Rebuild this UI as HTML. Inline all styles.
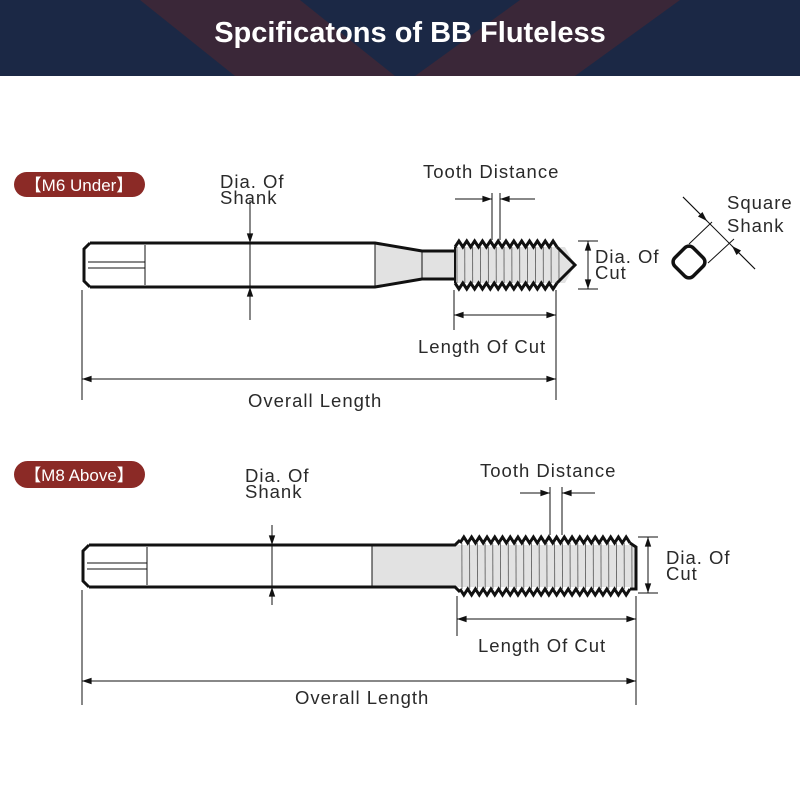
<!DOCTYPE html>
<html><head><meta charset="utf-8"><style>
html,body{margin:0;padding:0;background:#fff;}
svg{display:block;}
text{font-family:"Liberation Sans","DejaVu Sans",sans-serif;fill:#2a2a2a;}
</style></head><body>
<svg id="s" width="800" height="800" viewBox="0 0 800 800" xmlns="http://www.w3.org/2000/svg">
<defs>
<marker id="a" viewBox="0 0 12 10" refX="12" refY="5" markerWidth="12" markerHeight="8" markerUnits="userSpaceOnUse" orient="auto-start-reverse"><path d="M0,1 L12,5 L0,9 z" fill="#111"/></marker>
</defs>
<rect x="0" y="0" width="800" height="76" fill="#1b2845"/>
<polygon points="140,0 300,0 395,76 235,76" fill="#3a2738"/>
<polygon points="520,0 680,0 575,76 415,76" fill="#3a2738"/>
<text x="410" y="42" font-size="29" font-weight="bold" text-anchor="middle" style="fill:#fff">Spcificatons of BB Fluteless</text>

<rect x="14" y="172" width="131" height="25" rx="12.5" fill="#8b2a26"/>
<text x="79" y="191" font-size="17" text-anchor="middle" style="fill:#fff">【M6 Under】</text>
<rect x="14" y="461" width="131" height="27" rx="13.5" fill="#8b2a26"/>
<text x="79" y="481" font-size="17" text-anchor="middle" style="fill:#fff">【M8 Above】</text>

<g font-size="18.5" letter-spacing="1">
<text x="220" y="188">Dia. Of</text><text x="220" y="204">Shank</text>
<text x="423" y="178">Tooth Distance</text>
<text x="727" y="209">Square</text><text x="727" y="232">Shank</text>
<text x="595" y="263">Dia. Of</text><text x="595" y="279">Cut</text>
<text x="418" y="353">Length Of Cut</text>
<text x="248" y="407">Overall Length</text>
<text x="245" y="482">Dia. Of</text><text x="245" y="498">Shank</text>
<text x="480" y="477">Tooth Distance</text>
<text x="666" y="564">Dia. Of</text><text x="666" y="580">Cut</text>
<text x="478" y="652">Length Of Cut</text>
<text x="295" y="704">Overall Length</text>
</g>

<g id="draw" stroke="#111" fill="none"></g>

<g stroke="#111" fill="none">
<rect x="676" y="249" width="26" height="26" rx="6" transform="rotate(45 689 262)" stroke-width="3.5"/>
<line x1="683" y1="197" x2="755" y2="269" stroke-width="1"/>
<line x1="683" y1="197" x2="707" y2="221" stroke-width="1" marker-end="url(#a)"/>
<line x1="755" y1="269" x2="732" y2="246" stroke-width="1" marker-end="url(#a)"/>
<line x1="689" y1="244" x2="712" y2="222" stroke-width="1"/>
<line x1="708" y1="263" x2="734" y2="239" stroke-width="1"/>
</g>
</svg>
<script>
var g=document.getElementById('draw');
function el(t,a){var e=document.createElementNS('http://www.w3.org/2000/svg',t);for(var k in a)e.setAttribute(k,a[k]);g.appendChild(e);return e;}
function L(x1,y1,x2,y2,w,m1,m2){var e=el('line',{x1:x1,y1:y1,x2:x2,y2:y2,'stroke-width':w||1});if(m1)e.setAttribute('marker-start','url(#a)');if(m2)e.setAttribute('marker-end','url(#a)');}
function thread(x0,x1,top,bot,d,n){
  var p='M'+x0+','+(top+d);var pitch=(x1-x0)/n;
  for(var i=0;i<n;i++){p+=' L'+(x0+pitch*i+pitch/2)+','+top+' L'+(x0+pitch*(i+1))+','+(top+d);}
  var q='M'+x0+','+(bot-d);
  for(var i=0;i<n;i++){q+=' L'+(x0+pitch*i+pitch/2)+','+bot+' L'+(x0+pitch*(i+1))+','+(bot-d);}
  el('path',{d:p,'stroke-width':3});el('path',{d:q,'stroke-width':3});
  for(var i=0;i<=n;i++){el('line',{x1:x0+pitch*i+pitch/2-2,y1:top+d,x2:x0+pitch*i+2,y2:bot-d,'stroke-width':0.8,stroke:'#555'});}
}
el('path',{d:'M375,243 L422,251 L455,251 L455,279 L422,279 L375,287 Z',fill:'#e2e2e2',stroke:'none'});
el('path',{d:'M455,247 L565,247 L575,265 L565,283 L455,283 Z',fill:'#e2e2e2',stroke:'none'});
el('path',{d:'M90,243 L375,243 L422,251 L455,251','stroke-width':3});
el('path',{d:'M90,287 L375,287 L422,279 L455,279','stroke-width':3});
el('path',{d:'M90,243 L84,249 L84,281 L90,287','stroke-width':3});
L(375,243,375,287,1);L(422,251,422,279,1);
L(88,262,145,262,1);L(88,268,145,268,1);L(145,245,145,285,1);
thread(455,557,241,289,6,13);
el('path',{d:'M557,247 L575,265 L557,283','stroke-width':3});
L(455,247,455,283,2);
L(250,200,250,243,1,false,true);L(250,320,250,287,1,false,true);L(250,243,250,287,1);
L(492,193,492,240,1);L(500,193,500,240,1);
L(455,199,492,199,1,false,true);L(535,199,500,199,1,false,true);
L(578,241,598,241,1);L(578,289,598,289,1);L(588,241,588,289,1,true,true);
L(454,290,454,330,1);L(556,290,556,400,1);L(454,315,556,315,1,true,true);
L(82,290,82,400,1);L(82,379,556,379,1,true,true);
el('rect',{x:372,y:545,width:86,height:42,fill:'#e2e2e2',stroke:'none'});
el('rect',{x:458,y:545,width:178,height:42,fill:'#e2e2e2',stroke:'none'});
el('path',{d:'M89,545 L455,545 L460,540','stroke-width':3});
el('path',{d:'M89,587 L455,587 L460,592','stroke-width':3});
el('path',{d:'M89,545 L83,551 L83,581 L89,587','stroke-width':3});
L(372,545,372,587,1);
L(87,563,147,563,1);L(87,569,147,569,1);L(147,547,147,585,1);
thread(460,630,537,595,6,22);
el('path',{d:'M630,543 L636,547 L636,589 L630,589','stroke-width':3});
L(272,525,272,545,1,false,true);L(272,605,272,587,1,false,true);L(272,545,272,587,1);
L(550,487,550,535,1);L(562,487,562,535,1);
L(520,493,550,493,1,false,true);L(595,493,562,493,1,false,true);
L(638,537,658,537,1);L(638,593,658,593,1);L(648,537,648,593,1,true,true);
L(457,596,457,636,1);L(636,596,636,705,1);L(457,619,636,619,1,true,true);
L(82,590,82,705,1);L(82,681,636,681,1,true,true);
</script>
</body></html>
